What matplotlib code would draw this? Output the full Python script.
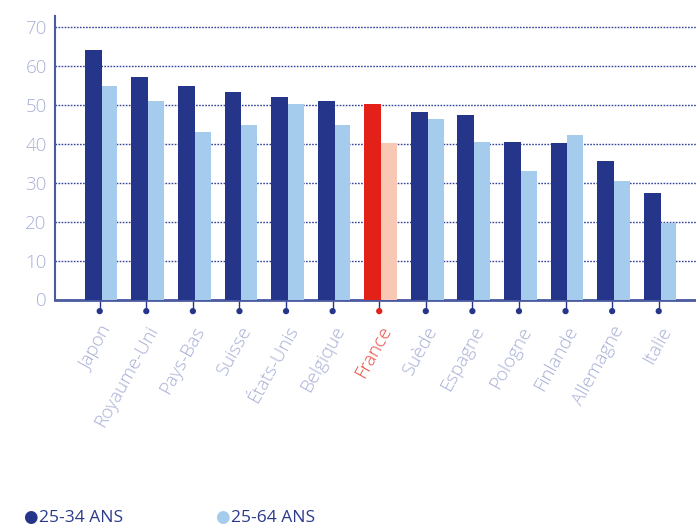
import numpy as np
import matplotlib
matplotlib.use('Agg')
import matplotlib.pyplot as plt

countries = ['Japon', 'Royaume-Uni', 'Pays-Bas', 'Suisse', 'États-Unis', 'Belgique',
             'France', 'Suède', 'Espagne', 'Pologne', 'Finlande', 'Allemagne', 'Italie']
young = [64.0, 57.1, 54.7, 53.2, 51.9, 50.9, 50.1, 48.1, 47.3, 40.4, 40.1, 35.5, 27.3]
all_ages = [54.8, 50.9, 42.9, 44.7, 50.1, 44.7, 40.1, 46.3, 40.4, 32.9, 42.2, 30.4, 19.6]
yticks = [0, 10, 20, 30, 40, 50, 60, 70]
HIGHLIGHT = 'France'

NAVY, LIGHT = '#25358a', '#a5cbed'
RED, PINK = '#e32119', '#f8c8b4'
LAV = '#a9b0d6'
AXIS = '#4a5aa0'

plt.rcParams.update({'font.family': ['Open Sans', 'DejaVu Sans']})
fig = plt.figure(figsize=(6.96, 5.27), dpi=100)
ax = fig.add_axes([55/696, 1-299.5/527, 1-55/696, 283.5/527])

x = np.arange(len(countries))
c1 = [RED if c == HIGHLIGHT else NAVY for c in countries]
c2 = [PINK if c == HIGHLIGHT else LIGHT for c in countries]
ax.bar(x - 0.32, young, 0.36, align='edge', color=c1, zorder=3)
ax.bar(x + 0.04, all_ages, 0.34, align='edge', color=c2, zorder=3)

ax.set_xlim(-0.96, 12.8)
ax.set_ylim(0, 72.7)
ax.set_yticks(yticks)
ax.yaxis.grid(True, linestyle=(0, (1.2, 1.0)), color='#34449a', linewidth=1.0, zorder=0)
ax.tick_params(axis='y', length=0, labelsize=13.5, labelcolor=LAV, pad=6)
for lab in ax.get_yticklabels():
    lab.set_fontweight('light')

ax.set_xticks(x)
ax.set_xticklabels(countries, rotation=61, ha='right', va='top',
                   rotation_mode='anchor', fontsize=13.5, fontweight='light')
ax.tick_params(axis='x', length=8, width=1, color=NAVY, pad=9)
for lab, tk, c in zip(ax.get_xticklabels(), ax.xaxis.get_major_ticks(), countries):
    lab.set_color('#ea4a40' if c == HIGHLIGHT else LAV)
    tk.tick1line.set_color(RED if c == HIGHLIGHT else NAVY)
ax.scatter(x, np.full(len(x), -0.041), s=12, c=c1,
           transform=ax.get_xaxis_transform(), clip_on=False, zorder=5)

for sp in ['top', 'right']:
    ax.spines[sp].set_visible(False)
ax.spines['bottom'].set_color(AXIS)
ax.spines['bottom'].set_linewidth(2)
ax.spines['left'].set_color(AXIS)
ax.spines['left'].set_linewidth(1.5)

# legend
fig.text(30/696, 1-518/527, '●', color=NAVY, fontsize=12, ha='center', va='center')
fig.text(39/696, 1-518/527, '25-34 ANS', color='#2a3a8a', fontsize=12.5, ha='left', va='center')
fig.text(222/696, 1-518/527, '●', color=LIGHT, fontsize=12, ha='center', va='center')
fig.text(231/696, 1-518/527, '25-64 ANS', color='#2a3a8a', fontsize=12.5, ha='left', va='center')

fig.savefig('out.png', dpi=100)
